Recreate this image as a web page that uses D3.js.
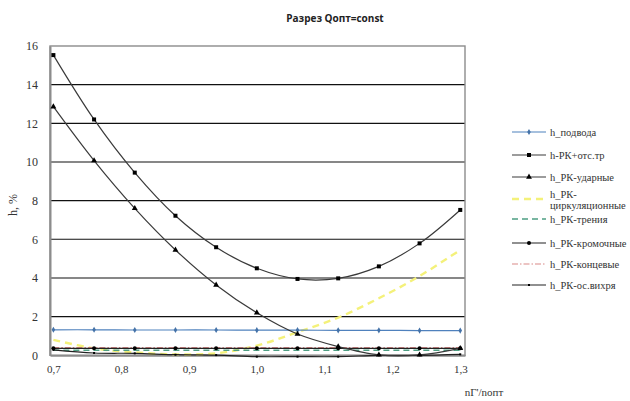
<!DOCTYPE html>
<html>
<head>
<meta charset="utf-8">
<script src="https://cdn.jsdelivr.net/npm/d3@7"></script>
<style>
  html, body { margin: 0; padding: 0; background: #fff; }
  svg { display: block; }
  .serif { font-family: "Liberation Serif", "Times New Roman", "DejaVu Serif", serif; }
</style>
</head>
<body>
<svg id="chart" width="630" height="401"></svg>
<script>
// Relative speed nГ/nопт at which the losses were computed
const speedRatio = [0.70, 0.76, 0.82, 0.88, 0.94, 1.00, 1.06, 1.12, 1.18, 1.24, 1.30];

// Loss components, h, %
const hSupply      = [1.32, 1.32, 1.31, 1.31, 1.31, 1.30, 1.30, 1.29, 1.29, 1.28, 1.28];
const hRotorTotal  = [15.53, 12.20, 9.45, 7.22, 5.59, 4.50, 3.95, 3.98, 4.60, 5.79, 7.52];
const hShock       = [12.86, 10.07, 7.60, 5.45, 3.64, 2.20, 1.10, 0.45, 0.02, 0.02, 0.36];
const hCirculation = [0.80, 0.36, 0.15, 0.05, 0.10, 0.50, 1.20, 1.95, 2.95, 4.10, 5.45];
const hFriction    = [0.26, 0.26, 0.26, 0.26, 0.26, 0.26, 0.26, 0.26, 0.26, 0.26, 0.26];
const hEdge        = [0.36, 0.36, 0.36, 0.36, 0.36, 0.36, 0.36, 0.36, 0.36, 0.36, 0.36];
const hTip         = [0.40, 0.40, 0.40, 0.40, 0.40, 0.40, 0.40, 0.40, 0.40, 0.40, 0.40];
const hVortex      = [0.28, 0.12, 0.10, 0.03, 0.01, -0.07, -0.07, -0.07, 0.00, 0.00, 0.05];

const xTicks = [0.7, 0.8, 0.9, 1.0, 1.1, 1.2, 1.3];
const yTicks = [0, 2, 4, 6, 8, 10, 12, 14, 16];

const seriesNames = [
  "h_подвода", "h-РК+отс.тр", "h_РК-ударные", "h_РК-циркуляционные",
  "h_РК-трения", "h_РК-кромочные", "h_РК-концевые", "h_РК-ос.вихря"
];

const series = [
  { name: seriesNames[0], values: hSupply,      color: "#4F81BD", width: 1.2, dash: null,    marker: "diamond", mcolor: "#4472A8" },
  { name: seriesNames[1], values: hRotorTotal,  color: "#3a3a3a", width: 1.2, dash: null,    marker: "square",  mcolor: "#000" },
  { name: seriesNames[2], values: hShock,       color: "#3a3a3a", width: 1.2, dash: null,    marker: "triangle",mcolor: "#000" },
  { name: seriesNames[3], values: hCirculation, color: "#F4F17A", width: 2.4, dash: "7,5",   marker: null,      mcolor: null },
  { name: seriesNames[4], values: hFriction,    color: "#4E9E82", width: 1.4, dash: "6,4",   marker: null,      mcolor: null },
  { name: seriesNames[5], values: hEdge,        color: "#222",    width: 1.2, dash: null,    marker: "circle",  mcolor: "#000" },
  { name: seriesNames[6], values: hTip,         color: "#D98A88", width: 1.2, dash: "6,2,1.5,2", marker: null,  mcolor: null },
  { name: seriesNames[7], values: hVortex,      color: "#222",    width: 1.2, dash: null,    marker: "dot",     mcolor: "#000" }
];

const svg = d3.select("#chart");
const fmt = d => d3.format(".1f")(d).replace(".", ",");

const x = d3.scaleLinear().domain([0.695, 1.307]).range([50, 465]);
const y = d3.scaleLinear().domain([0, 16]).range([355.3, 46]);

// Title
svg.append("text")
  .attr("x", 335).attr("y", 22)
  .attr("text-anchor", "middle")
  .attr("font-family", "'Open Sans', 'DejaVu Sans', sans-serif")
  .attr("font-weight", "bold")
  .attr("font-size", 10)
  .attr("fill", "#222")
  .text("Разрез Qопт=const");

// Horizontal gridlines
svg.append("g").selectAll("line")
  .data(yTicks.filter(t => t > 0 && t < 16))
  .join("line")
  .attr("x1", x.range()[0]).attr("x2", x.range()[1])
  .attr("y1", d => y(d)).attr("y2", d => y(d))
  .attr("stroke", "#111").attr("stroke-width", 1.1);

// Plot frame (top / right) and axes
svg.append("rect")
  .attr("x", 50).attr("y", y(16))
  .attr("width", 415).attr("height", y(0) - y(16))
  .attr("fill", "none").attr("stroke", "#8c8c8c").attr("stroke-width", 1.4);

const yAxis = d3.axisLeft(y).tickValues(yTicks).tickSize(0).tickPadding(12).tickFormat(d3.format("d"));
const gy = svg.append("g").attr("transform", "translate(50,0)").call(yAxis);
gy.attr("font-family", null);
gy.select(".domain").attr("stroke", "#8c8c8c").attr("stroke-width", 2);
gy.selectAll("text").attr("class", "serif").attr("font-size", 12).attr("fill", "#333");

const xAxis = d3.axisBottom(x).tickValues(xTicks).tickSize(0).tickPadding(10).tickFormat(fmt);
const gx = svg.append("g").attr("transform", `translate(0,${y(0)})`).call(xAxis);
gx.attr("font-family", null);
gx.select(".domain").attr("stroke", "#8c8c8c").attr("stroke-width", 2);
gx.selectAll("text").attr("class", "serif").attr("font-size", 11).attr("fill", "#333");

// Axis titles
svg.append("text")
  .attr("class", "serif")
  .attr("transform", "translate(17,205) rotate(-90)")
  .attr("text-anchor", "middle")
  .attr("font-size", 12).attr("fill", "#333")
  .text("h, %");

svg.append("text")
  .attr("class", "serif")
  .attr("x", 484).attr("y", 396)
  .attr("text-anchor", "middle")
  .attr("font-size", 11).attr("fill", "#333")
  .text("nГ'/nопт");

// Marker drawing helper
function drawMarker(g, type, cx, cy, color) {
  if (type === "square") {
    g.append("rect").attr("x", cx - 2).attr("y", cy - 2).attr("width", 4).attr("height", 4).attr("fill", color);
  } else if (type === "triangle") {
    g.append("path").attr("d", d3.symbol(d3.symbolTriangle, 15)()).attr("transform", `translate(${cx},${cy})`).attr("fill", color);
  } else if (type === "diamond") {
    g.append("path").attr("d", d3.symbol(d3.symbolDiamond, 11)()).attr("transform", `translate(${cx},${cy})`).attr("fill", color);
  } else if (type === "circle") {
    g.append("circle").attr("cx", cx).attr("cy", cy).attr("r", 2).attr("fill", color);
  } else if (type === "dot") {
    g.append("rect").attr("x", cx - 1).attr("y", cy - 1).attr("width", 2).attr("height", 2).attr("fill", color);
  }
}

// Series lines, drawn so the heavy curves end up on top
const line = d3.line()
  .x((d, i) => x(speedRatio[i]))
  .y(d => y(d))
  .curve(d3.curveCatmullRom.alpha(0.5));

const drawOrder = [3, 4, 6, 0, 7, 5, 2, 1];
const plot = svg.append("g");
drawOrder.forEach(k => {
  const s = series[k];
  plot.append("path")
    .datum(s.values)
    .attr("d", line)
    .attr("fill", "none")
    .attr("stroke", s.color)
    .attr("stroke-width", s.width)
    .attr("stroke-dasharray", s.dash);
  if (s.marker) {
    const mg = plot.append("g");
    s.values.forEach((v, i) => drawMarker(mg, s.marker, x(speedRatio[i]), y(v), s.mcolor));
  }
});

// Legend
const legendY = [132, 155, 177, 199, 219, 243, 264, 285];
const legend = svg.append("g");
series.forEach((s, i) => {
  const ly = legendY[i];
  const g = legend.append("g");
  g.append("line")
    .attr("x1", 512).attr("x2", 546)
    .attr("y1", ly).attr("y2", ly)
    .attr("stroke", s.color)
    .attr("stroke-width", s.width)
    .attr("stroke-dasharray", s.dash);
  if (s.marker) drawMarker(g, s.marker, 529, ly, s.mcolor);
  const t = g.append("text")
    .attr("class", "serif")
    .attr("x", 550).attr("y", ly + 3.5)
    .attr("font-size", 10.5).attr("fill", "#333");
  if (i === 3) {
    t.attr("y", ly - 1).text("h_РК-");
    g.append("text")
      .attr("class", "serif")
      .attr("x", 550).attr("y", ly + 10)
      .attr("font-size", 10.5).attr("fill", "#333")
      .text("циркуляционные");
  } else {
    t.text(s.name);
  }
});
</script>
</body>
</html>
